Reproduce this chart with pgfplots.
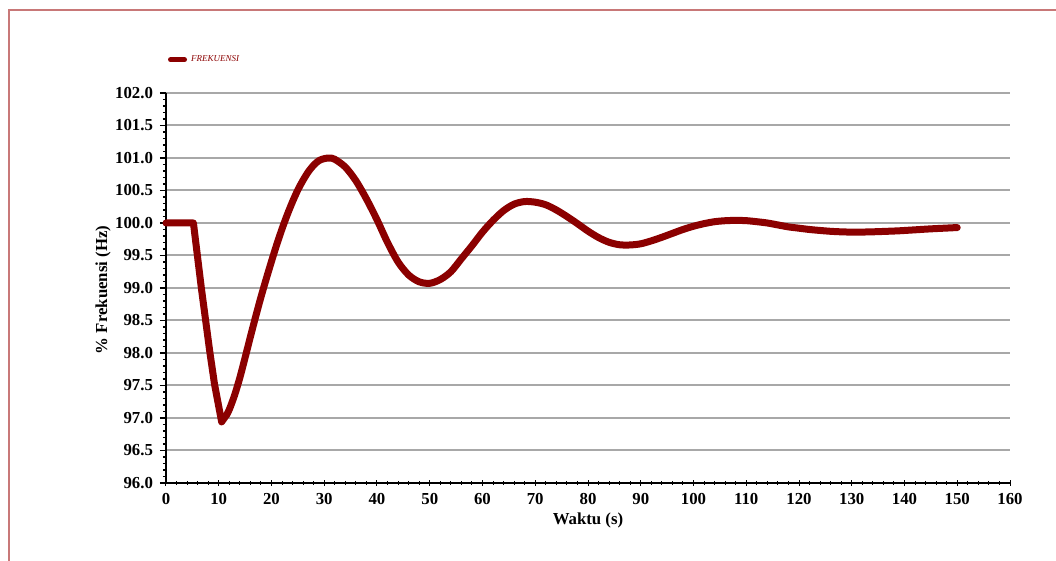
\documentclass[border=0pt]{standalone}
\usepackage{fontspec}
\setmainfont{Liberation Serif}
\usepackage{pgfplots}
\pgfplotsset{compat=1.18}
\definecolor{curvered}{HTML}{8B0000}
\definecolor{gridgray}{HTML}{A8A8A8}
\definecolor{framered}{HTML}{C87878}
\begin{document}
\begin{tikzpicture}
\useasboundingbox (-83pt,-39pt) rectangle (445pt,241.5pt);
\draw[framered, line width=1pt] (-78.5pt,-60pt) -- (-78.5pt,236.5pt) -- (470pt,236.5pt);
\begin{axis}[
  at={(0,0)}, anchor=south west,
  scale only axis,
  width=422pt, height=195pt,
  xmin=0, xmax=160, ymin=96, ymax=102,
  axis x line*=bottom, axis y line*=left,
  x axis line style={-, line width=0.7pt},
  y axis line style={-, line width=0.7pt},
  xtick={0,10,...,160},
  ytick={96,96.5,...,102},
  minor x tick num=4, minor y tick num=4,
  x tick style={line width=0.5pt, black},
  y tick style={line width=0.6pt, black},
  xtick align=center, ytick align=outside,
  major tick length=3pt, minor tick length=1.6pt,
  ymajorgrids,
  major grid style={gridgray, line width=1pt},
  /pgf/number format/assume math mode=true,
  tick label style={font=\fontsize{8.4}{9}\selectfont\bfseries},
  y tick label style={/pgf/number format/.cd, fixed, fixed zerofill, precision=1},
  x tick label style={/pgf/number format/.cd, fixed, precision=0},
  xlabel={Waktu (s)},
  ylabel={\% Frekuensi (Hz)},
  label style={font=\fontsize{8.4}{9}\selectfont\bfseries},
  xlabel style={at={(axis description cs:0.5,-0.095)}, anchor=center},
  ylabel style={at={(axis description cs:-0.0746,0.495)}, anchor=center},
  legend style={at={(axis description cs:0.0024,1.085)}, anchor=west, draw=none, fill=none,
    font=\fontsize{4.5}{5}\selectfont\itshape, text=curvered,
    inner sep=0pt, outer sep=0pt},
  legend cell align=left,
  legend image code/.code={\draw[line width=2.5pt, line cap=round, curvered] (0pt,0pt) -- (7pt,0pt);},
  clip=false,
]
\addplot[curvered, line width=3.5pt, line join=round, line cap=round] coordinates {
(0,100) (5.2,100) (6.7,99.0) (8.3,98.02) (9.2,97.52) (10.55,96.94) (11.5,97.05)
};
\addlegendentry{FREKUENSI}
\addplot[curvered, line width=3.5pt, line join=round, line cap=round, smooth, forget plot] coordinates {
(11.5,97.05) (12,97.13) (13,97.35) (14,97.62) (15,97.93) (16,98.25) (17,98.56) (18,98.86)
(19,99.14) (20,99.41) (21,99.67) (22,99.91) (23,100.13) (24,100.33) (25,100.51) (26,100.66)
(27,100.79) (28,100.89) (29,100.96) (30,100.99) (31,101.0) (32,100.98) (34,100.86)
(36,100.65) (38,100.37) (40,100.05) (42,99.70) (44,99.40) (46,99.20) (48,99.095)
(50,99.072) (52,99.13) (54,99.25) (56,99.45) (58,99.65) (60,99.86) (62,100.04) (64,100.19)
(66,100.29) (68,100.33) (70,100.32) (72,100.28) (74,100.20) (76,100.10) (78,99.99)
(80,99.875) (82,99.776) (84,99.703) (86,99.665) (88,99.662) (90,99.68) (92,99.725)
(94,99.78) (96,99.84) (98,99.90) (100,99.95) (102,99.99) (104,100.02) (106,100.035)
(108,100.04) (110,100.036) (112,100.02) (114,100.0) (116,99.97) (118,99.94) (120,99.92)
(122,99.90) (124,99.885) (126,99.872) (128,99.864) (130,99.86) (133,99.862) (136,99.87)
(139,99.88) (142,99.895) (145,99.91) (148,99.922) (150,99.93)
};
\end{axis}
\end{tikzpicture}
\end{document}
